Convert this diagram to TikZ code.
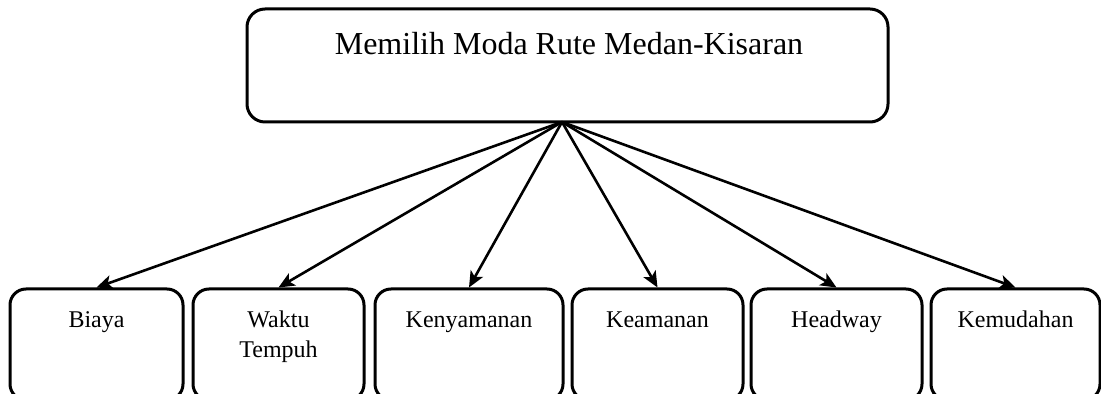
\documentclass[tikz,border=0pt]{standalone}
\usepackage{fontspec}
\setmainfont{Liberation Serif}
\usetikzlibrary{arrows.meta}
\tikzset{every picture/.style={line width=0.75pt}}

\begin{document}
\begin{tikzpicture}[x=0.5pt, y=-0.5pt,
    topbox/.style={draw, line width=1.5pt, rounded corners=9pt, minimum width=320.5pt, minimum height=56.5pt, inner sep=0pt},
    subbox/.style={draw, line width=1.5pt, rounded corners=8pt, minimum height=55.5pt, inner sep=0pt},
    lbl/.style={font=\fontsize{12}{15}\selectfont, align=center, anchor=base, inner sep=0pt},
    fanarrow/.style={-{Stealth[length=8pt,width=7pt,inset=2pt]}, line width=1.3pt}]
    \clip (0,0) rectangle (1101,394);
    % 主题框
    \node[topbox] (goal) at (567.5,65.5) {};
    \node[anchor=base, inner sep=0pt, font=\fontsize{16}{19.2}\selectfont] (goaltext) at (569,55) {Memilih Moda Rute Medan-Kisaran};
    \coordinate (fan) at (562,122);
    % 六个因素
    \node[subbox, minimum width=86.5pt] (biaya) at (96.5,344.5) {};
    \node[subbox, minimum width=85.5pt] (waktu) at (278.5,344.5) {};
    \node[subbox, minimum width=94pt] (nyaman) at (469,344.5) {};
    \node[subbox, minimum width=85.5pt] (aman) at (657.5,344.5) {};
    \node[subbox, minimum width=85.5pt] (headway) at (836.5,344.5) {};
    \node[subbox, minimum width=84.5pt] (mudah) at (1015.5,344.5) {};
    \node[lbl] (lbiaya) at (biaya |- 0,328) {Biaya};
    \node[lbl] (lwaktu) at (waktu |- 0,358) {Waktu\\Tempuh};
    \node[lbl] (lnyaman) at (nyaman |- 0,328) {Kenyamanan};
    \node[lbl] (laman) at (aman |- 0,328) {Keamanan};
    \node[lbl] (lheadway) at (headway |- 0,328) {Headway};
    \node[lbl] (lmudah) at (mudah |- 0,328) {Kemudahan};
    % 箭头
    \foreach \f in {biaya,waktu,nyaman,aman,headway,mudah}
        \draw[fanarrow] (fan) -- (\f.north);
\end{tikzpicture}
\end{document}
